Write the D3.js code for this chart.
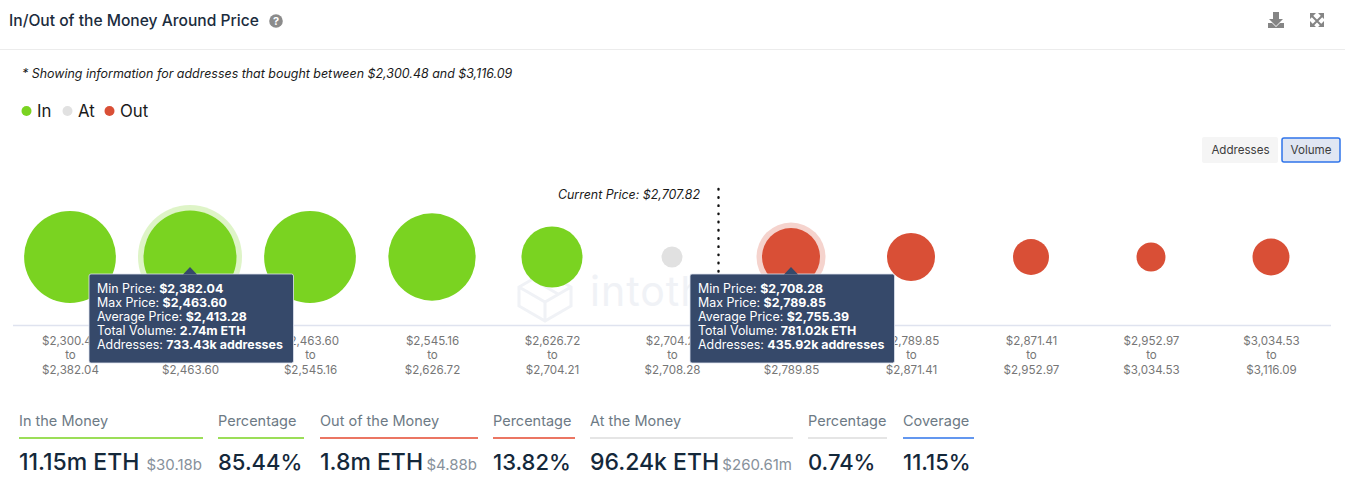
<!DOCTYPE html>
<html>
<head>
<meta charset="utf-8">
<title>In/Out of the Money Around Price</title>
<script src="https://cdn.jsdelivr.net/npm/d3@7"></script>
<style>
  html, body { margin: 0; padding: 0; background: #fff; overflow: hidden; }
  svg { display: block; font-family: Inter, "Noto Sans", sans-serif; }
</style>
</head>
<body>
<div id="chart"></div>
<script>
// bins
const binFrom = ["$2,300.48", "$2,382.04", "$2,463.60", "$2,545.16", "$2,626.72", "$2,704.21", "$2,708.28", "$2,789.85", "$2,871.41", "$2,952.97", "$3,034.53"];
const binTo = ["$2,382.04", "$2,463.60", "$2,545.16", "$2,626.72", "$2,704.21", "$2,708.28", "$2,789.85", "$2,871.41", "$2,952.97", "$3,034.53", "$3,116.09"];
const binStatus = ["In", "In", "In", "In", "In", "At", "Out", "Out", "Out", "Out", "Out"];
// volume in ETH, only 2.74m, 96.24k and 781.02k are printed, others estimated from bubble size
const binVolume = [2650000, 2740000, 2650000, 2340000, 905000, 96240, 781020, 531000, 294000, 188000, 311000];

const legendNames = ["In", "At", "Out"];
const legendColors = ["#7ad321", "#e1e1e1", "#d94f36"];

const tooltipBins = [1, 6];
const tooltipRows = [
  [["Min Price: ", "$2,382.04"], ["Max Price: ", "$2,463.60"], ["Average Price: ", "$2,413.28"], ["Total Volume: ", "2.74m ETH"], ["Addresses: ", "733.43k addresses"]],
  [["Min Price: ", "$2,708.28"], ["Max Price: ", "$2,789.85"], ["Average Price: ", "$2,755.39"], ["Total Volume: ", "781.02k ETH"], ["Addresses: ", "435.92k addresses"]]
];

const statTitles = ["In the Money", "Percentage", "Out of the Money", "Percentage", "At the Money", "Percentage", "Coverage"];
const statValues = ["11.15m ETH", "85.44%", "1.8m ETH", "13.82%", "96.24k ETH", "0.74%", "11.15%"];
const statUsd = ["$30.18b", "", "$4.88b", "", "$260.61m", "", ""];
const statLeft = [19, 218, 320, 493, 590, 808, 903];
const statRight = [203, 304, 478, 575, 793, 887, 974];
const statLine = ["#7ad321", "#7ad321", "#e5492f", "#e5492f", "#dddddd", "#dddddd", "#2f74ea"];

const width = 1345, height = 477;
const axisY = 325, bubbleY = 257;

const svg = d3.select("#chart").append("svg")
  .attr("width", width)
  .attr("height", height);

// header
svg.append("text").attr("x", 9).attr("y", 26)
  .attr("font-size", 15.6).attr("font-weight", 500).attr("fill", "#1b2c3d")
  .text("In/Out of the Money Around Price");
svg.append("circle").attr("cx", 276).attr("cy", 21).attr("r", 6.8).attr("fill", "#8b8b8b");
svg.append("text").attr("x", 276).attr("y", 25.2).attr("text-anchor", "middle")
  .attr("font-size", 11).attr("font-weight", 700).attr("fill", "#fff").text("?");
svg.append("line").attr("x1", 0).attr("x2", width).attr("y1", 49.5).attr("y2", 49.5).attr("stroke", "#ececec");

// download + fullscreen icons
svg.append("path").attr("fill", "#858585")
  .attr("d", "M1273 12h6v7h4l-7 7-7-7h4z M1268 23h4l4 4 4-4h4v5h-16z");
svg.append("path").attr("fill", "none").attr("stroke", "#858585").attr("stroke-width", 2)
  .attr("d", "M1312 16l10 10 M1322 16l-10 10");
svg.append("path").attr("fill", "#858585")
  .attr("d", "M1310 13h6l-6 6z M1324 13h-6l6 6z M1310 27h6l-6-6z M1324 27h-6l6-6z");

svg.append("text").attr("x", 22).attr("y", 77.5)
  .attr("font-size", 12.45).attr("font-style", "italic").attr("fill", "#1a1a1a")
  .text("* Showing information for addresses that bought between $2,300.48 and $3,116.09");

// legend
const legendX = [26.5, 67.5, 109.5];
const legend = svg.append("g").selectAll("g").data(legendNames).join("g")
  .attr("transform", (d, i) => `translate(${legendX[i]},111)`);
legend.append("circle").attr("r", 5).attr("fill", (d, i) => legendColors[i]);
legend.append("text").attr("x", 10.5).attr("y", 6)
  .attr("font-size", 16.8).attr("fill", "#1a1a1a").text(d => d);

// addresses / volume switch
svg.append("rect").attr("x", 1202).attr("y", 137).attr("width", 76).attr("height", 26).attr("rx", 2).attr("fill", "#f5f5f5");
svg.append("text").attr("x", 1240.5).attr("y", 154).attr("text-anchor", "middle")
  .attr("font-size", 11.6).attr("fill", "#3d3d3d").text("Addresses");
svg.append("rect").attr("x", 1282).attr("y", 138).attr("width", 58).attr("height", 24).attr("rx", 2)
  .attr("fill", "#e0e6f3").attr("stroke", "#2f74ea").attr("stroke-width", 1.5);
svg.append("text").attr("x", 1311).attr("y", 154).attr("text-anchor", "middle")
  .attr("font-size", 11.6).attr("fill", "#3d3d3d").text("Volume");

// watermark, sits under the bubbles
const mark = svg.append("g").attr("fill", "none").attr("stroke", "#f0f2f6").attr("stroke-width", 3);
mark.append("path").attr("d", "M545 272l26 15v19l-26 15-26-15v-19z M519 287l26 15 26-15 M545 302v19 M532 279l26 15");
svg.append("text").attr("x", 590).attr("y", 306)
  .attr("font-size", 41).attr("fill", "#f0f2f6").attr("letter-spacing", 1).text("intotheblock");

// scales, the picture's bins are not quite evenly spaced
const binIndex = d3.range(binVolume.length);
const x = d3.scaleLinear().domain([0, 2, 3, 5, 6, 10]).range([70, 310, 432, 672, 791, 1271]);
const r = d3.scaleSqrt().domain([0, 96240, 781020, 2740000]).range([0, 10.5, 29, 46.5]);
const color = d3.scaleOrdinal().domain(legendNames).range(legendColors);

// current price marker
svg.append("line").attr("x1", 718.5).attr("x2", 718.5).attr("y1", 189).attr("y2", 325)
  .attr("stroke", "#111").attr("stroke-width", 2.4).attr("stroke-linecap", "round").attr("stroke-dasharray", "0.5 7.7");
svg.append("text").attr("x", 700).attr("y", 199).attr("text-anchor", "end")
  .attr("font-size", 12.4).attr("font-style", "italic").attr("fill", "#1a1a1a").text("Current Price: $2,707.82");

// axis
const axis = svg.append("g").attr("transform", `translate(0,${axisY})`)
  .call(d3.axisBottom(x).tickValues(binIndex).tickSize(0).tickFormat(""));
axis.select(".domain").attr("stroke", "#dfe3ef").attr("stroke-width", 1.5).attr("d", "M13,0.5H1331");
axis.selectAll(".tick text").each(function(d) {
  const t = d3.select(this).text(null)
    .attr("y", 0).attr("dy", null)
    .attr("font-family", "Inter, sans-serif").attr("font-size", 11.6).attr("fill", "#767676");
  [binFrom[d], "to", binTo[d]].forEach((s, i) => {
    t.append("tspan").attr("x", 0).attr("y", 19.5 + i * 14.6).text(s);
  });
});

// bubbles
svg.append("g").selectAll("circle.halo").data(tooltipBins).join("circle")
  .attr("class", "halo")
  .attr("cx", i => x(i)).attr("cy", bubbleY)
  .attr("r", i => r(binVolume[i]) + 5.5)
  .attr("fill", i => color(binStatus[i])).attr("opacity", 0.25);
svg.append("g").selectAll("circle.bubble").data(binVolume).join("circle")
  .attr("class", "bubble")
  .attr("cx", (d, i) => x(i)).attr("cy", bubbleY)
  .attr("r", d => r(d))
  .attr("fill", (d, i) => color(binStatus[i]));

// tooltips
const tip = svg.append("g").selectAll("g").data(tooltipBins).join("g")
  .attr("transform", i => `translate(${x(i)},274)`);
tip.append("rect").attr("x", -101).attr("y", 0).attr("width", 204.5).attr("height", 89).attr("rx", 2)
  .attr("fill", "#36496a").attr("stroke", "#dfe3ef").attr("stroke-opacity", 0.8);
tip.append("path").attr("d", "M-7,0.5L0,-7L7,0.5Z").attr("fill", "#36496a");
tip.each(function(d, k) {
  const t = d3.select(this).selectAll("text").data(tooltipRows[k]).join("text")
    .attr("x", -93).attr("y", (row, i) => 18.5 + i * 14.2)
    .attr("font-size", 12.4).attr("fill", "#fff");
  t.append("tspan").text(row => row[0]);
  t.append("tspan").attr("font-weight", 700).text(row => row[1]);
});

// summary row
const stat = svg.append("g").selectAll("g").data(statTitles).join("g");
stat.append("text").attr("x", (d, i) => statLeft[i]).attr("y", 426)
  .attr("font-size", 14.5).attr("fill", "#6d7a85").text(d => d);
stat.append("line")
  .attr("x1", (d, i) => statLeft[i]).attr("x2", (d, i) => statRight[i])
  .attr("y1", 438).attr("y2", 438)
  .attr("stroke", (d, i) => statLine[i]).attr("stroke-width", 1.5);
stat.append("text").attr("x", (d, i) => statLeft[i]).attr("y", 470)
  .attr("font-size", (d, i) => statValues[i].endsWith("%") ? 22 : 23)
  .attr("font-weight", 500).attr("fill", "#14283a")
  .text((d, i) => statValues[i]);
stat.append("text").attr("x", (d, i) => statRight[i] - 1).attr("y", 470).attr("text-anchor", "end")
  .attr("font-size", 15).attr("fill", "#87919b")
  .text((d, i) => statUsd[i]);
</script>
</body>
</html>
